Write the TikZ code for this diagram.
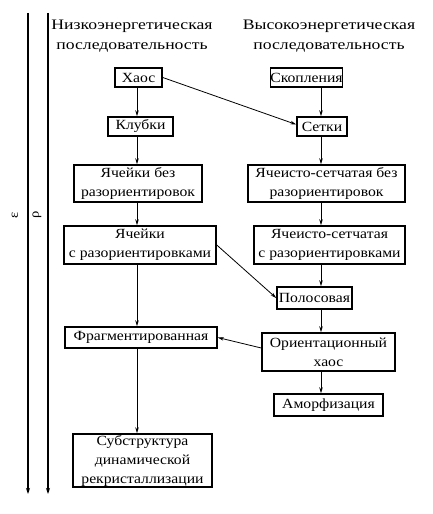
\documentclass[tikz,border=0pt]{standalone}
\usepackage{fontspec}
\setmainfont{Liberation Serif}[FakeStretch=1.12]
\newfontfamily\titlefont{Liberation Serif}[FakeStretch=1.22]
\usetikzlibrary{arrows.meta}
\begin{document}
\begin{tikzpicture}[x=1bp,y=-1bp,
  box/.style={draw,line width=1.5bp,inner sep=0pt,align=center,font=\fontsize{14bp}{19bp}\selectfont},
  title/.style={align=center,inner sep=0pt,font=\titlefont\fontsize{14.5bp}{20bp}\selectfont},
  arr/.style={line width=0.8bp,-{Stealth[length=6bp,width=3.5bp]}},
  axis/.style={line width=1.8bp,-{Stealth[length=6bp,width=4bp]}}]
\useasboundingbox (0,0) rectangle (432,514);
% left axes
\coordinate (e0) at (28,13);
\coordinate (e1) at (28,494);
\coordinate (r0) at (48,13);
\coordinate (r1) at (48,494);
\draw[axis] (e0) -- (e1);
\draw[axis] (r0) -- (r1);
\node[rotate=90,font=\fontsize{13bp}{13bp}\selectfont,inner sep=0pt] (eps) at (15,215) {ε};
\node[rotate=90,font=\fontsize{13bp}{13bp}\selectfont,inner sep=0pt] (rho) at (37,215) {ρ};
% titles
\node[title] (tl) at (132,36) {Низкоэнергетическая\\последовательность};
\node[title] (tr) at (329,36) {Высокоэнергетическая\\последовательность};
% column coordinates
\coordinate (L) at (137,0);
\coordinate (R) at (321,0);
% boxes
\node[box,minimum width=47bp,minimum height=19bp] (haos) at (138.5,77.5) {Хаос};
\node[box,minimum width=54bp,minimum height=19bp] (skop) at (306.5,77.5) {Скопления};
\node[box,minimum width=65bp,minimum height=19bp] (klub) at (140.5,126.5) {Клубки};
\node[box,minimum width=50bp,minimum height=19bp] (setk) at (322,126.5) {Сетки};
\node[box,minimum width=128bp,minimum height=37bp] (jbr) at (138,183.5) {Ячейки без\\разориентировок};
\node[box,minimum width=157bp,minimum height=37bp] (jsbr) at (326.5,183.5) {Ячеисто-сетчатая без\\разориентировок};
\node[box,minimum width=152bp,minimum height=38bp] (jsr) at (140,245) {Ячейки\\с разориентировками};
\node[box,minimum width=151bp,minimum height=38bp] (jssr) at (329.5,245) {Ячеисто-сетчатая\\с разориентировками};
\node[box,minimum width=75bp,minimum height=22bp] (polos) at (314.5,298) {Полосовая};
\node[box,minimum width=152bp,minimum height=21bp] (frag) at (141,337.5) {Фрагментированная};
\node[box,minimum width=133bp,minimum height=38bp] (orient) at (328.5,352) {Ориентационный\\хаос};
\node[box,minimum width=109bp,minimum height=22bp] (amorf) at (328.5,405) {Аморфизация};
\node[box,minimum width=139bp,minimum height=53bp] (subst) at (142.5,460.5) {Субструктура\\динамической\\рекристаллизации};
% connectors
\draw[arr] (haos.south -| L) -- (klub.north -| L);
\draw[arr] (klub.south -| L) -- (jbr.north -| L);
\draw[arr] (jbr.south -| L) -- (jsr.north -| L);
\draw[arr] (jsr.south -| L) -- (frag.north -| L);
\draw[arr] (frag.south -| L) -- (subst.north -| L);
\draw[arr] (skop.south -| R) -- (setk.north -| R);
\draw[arr] (setk.south -| R) -- (jsbr.north -| R);
\draw[arr] (jsbr.south -| R) -- (jssr.north -| R);
\draw[arr] (jssr.south -| R) -- (polos.north -| R);
\draw[arr] (polos.south -| R) -- (orient.north -| R);
\draw[arr] (orient.south -| R) -- (amorf.north -| R);
\draw[arr] (haos.east) -- ([yshift=2bp]setk.west);
\draw[arr] (jsr.east) -- (polos.west);
\draw[arr] ([yshift=4bp]orient.west) -- (frag.east);
\end{tikzpicture}
\end{document}
